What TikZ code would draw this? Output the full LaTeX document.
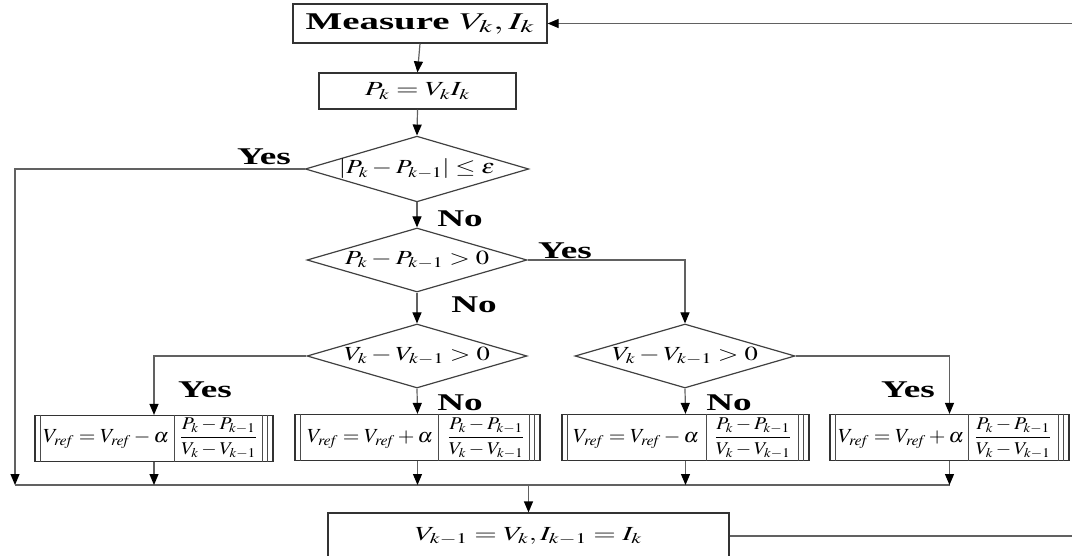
\documentclass[tikz,border=0pt]{standalone}
\usepackage{amsmath}
\usepackage{mathptmx}
\usepackage[no-math]{fontspec}
\setmainfont{Liberation Serif}
\usetikzlibrary{shapes.geometric,arrows.meta,calc}

% horizontally widened text, as in the chart's lettering
\newcommand{\wide}[2][1.45]{\scalebox{#1}[1]{#2}}

\tikzset{
  line/.style={draw=black!62, line width=1.2pt},
  arr/.style={line, -{Triangle[length=11pt,width=9pt,color=black]}},
  stepbox/.style={draw=black!80, line width=1.2pt, rectangle, inner sep=0pt},
  decide/.style={draw=black!75, line width=1.2pt, diamond, inner sep=0pt,
    shape aspect=3.4, minimum width=220pt, minimum height=64pt},
  lab/.style={inner sep=0pt, font=\fontsize{24}{26}\selectfont\bfseries},
  mtext/.style={inner sep=0pt, font=\fontsize{20}{22}\selectfont},
  ftext/.style={inner sep=0pt, font=\fontsize{18}{20}\selectfont},
}

\newcommand{\procbox}[5]{% name, center x, center y, width, divider offset
  \node[stepbox, minimum width=#4pt, minimum height=46pt] (#1) at (#2,#3) {};
  \draw[line width=0.9pt, black!70]
    ([xshift=6pt]#1.north west) -- ([xshift=6pt]#1.south west)
    ([xshift=-6pt]#1.north east) -- ([xshift=-6pt]#1.south east)
    ([xshift=-11pt]#1.north east) -- ([xshift=-11pt]#1.south east)
    ([xshift=#5pt]#1.north west) -- ([xshift=#5pt]#1.south west);
}

\begin{document}
\begin{tikzpicture}[x=1pt,y=-1pt]
\useasboundingbox (0,0) rectangle (1072,556);
\clip (0,0) rectangle (1072,556);

% top of the loop
\node[stepbox, minimum width=254pt, minimum height=39pt,
      font=\fontsize{24}{26}\selectfont\bfseries] (meas) at (420,23.5)
      {\wide[1.62]{Measure $V_k,I_k$}};
\node[stepbox, minimum width=197pt, minimum height=36pt, mtext] (pk) at (417.5,91)
      {\wide[1.45]{$P_k=V_kI_k$}};

% decisions
\node[decide, mtext] (d1) at (417,169)
      {\wide[1.3]{$\left|P_k-P_{k-1}\right|\le\varepsilon$}};
\node[decide, mtext] (d2) at (417,260)
      {\wide[1.33]{$P_k-P_{k-1}>0$}};
\node[decide, mtext] (d3) at (417,356)
      {\wide[1.33]{$V_k-V_{k-1}>0$}};
\node[decide, mtext] (d4) at (685,356)
      {\wide[1.33]{$V_k-V_{k-1}>0$}};

% reference-voltage updates
\procbox{b1}{154}{438.5}{238}{140}
\procbox{b2}{417.5}{437.5}{245}{144}
\procbox{b3}{685.5}{437.5}{247}{145}
\procbox{b4}{949.5}{437.5}{239}{139}

\node[mtext] (t1) at (106,439) {\wide[1.07]{$V_{\mathit{ref}}=V_{\mathit{ref}}-\alpha$}};
\node[ftext] (f1) at (218.5,438) {\wide[1.1]{$\dfrac{P_k-P_{k-1}}{V_k-V_{k-1}}$}};
\node[mtext] (t2) at (370,439) {\wide[1.07]{$V_{\mathit{ref}}=V_{\mathit{ref}}+\alpha$}};
\node[ftext] (f2) at (486,438) {\wide[1.1]{$\dfrac{P_k-P_{k-1}}{V_k-V_{k-1}}$}};
\node[mtext] (t3) at (636,439) {\wide[1.07]{$V_{\mathit{ref}}=V_{\mathit{ref}}-\alpha$}};
\node[ftext] (f3) at (753,438) {\wide[1.1]{$\dfrac{P_k-P_{k-1}}{V_k-V_{k-1}}$}};
\node[mtext] (t4) at (901,439) {\wide[1.07]{$V_{\mathit{ref}}=V_{\mathit{ref}}+\alpha$}};
\node[ftext] (f4) at (1013,438) {\wide[1.1]{$\dfrac{P_k-P_{k-1}}{V_k-V_{k-1}}$}};

% store previous sample
\node[stepbox, minimum width=401pt, minimum height=46pt, mtext] (fin) at (528.5,536)
      {\wide[1.45]{$V_{k-1}=V_k,I_{k-1}=I_k$}};

% branch labels
\node[lab] (y1) at (264,157) {\wide[1.55]{Yes}};
\node[lab] (n1) at (460,219) {\wide[1.55]{No}};
\node[lab] (y2) at (565,251) {\wide[1.55]{Yes}};
\node[lab] (n2) at (474,305) {\wide[1.55]{No}};
\node[lab] (y3) at (205,390) {\wide[1.55]{Yes}};
\node[lab] (n3) at (460,403) {\wide[1.55]{No}};
\node[lab] (n4) at (729,403) {\wide[1.55]{No}};
\node[lab] (y4) at (908,390) {\wide[1.55]{Yes}};

% connectors
\coordinate (mL) at (15,485);
\coordinate (mR) at (b4.south |- mL);
\coordinate (inT) at (1072,23.5);
\coordinate (outB) at (1072,536);

\draw[arr] (inT) -- (meas.east);
\draw[arr] (meas.south) -- (pk.north);
\draw[arr] (pk.south) -- (d1.north);
\draw[arr] (d1.south) -- (d2.north);
\draw[arr] (d2.south) -- (d3.north);
\draw[arr] (d2.east) -| (d4.north);
\draw[arr] (d3.west) -| (b1.north);
\draw[arr] (d3.south) -- (b2.north);
\draw[arr] (d4.south) -- (b3.north);
\draw[arr] (d4.east) -| (b4.north);
\draw[arr] (d1.west) -| (mL);
\draw[line] (mL) -- (mR);
\foreach \b in {b1,b2,b3,b4}
  \draw[arr] (\b.south) -- (\b.south |- mL);
\draw[arr] (mL -| fin.north) -- (fin.north);
\draw[line] (fin.east) -- (outB);
\end{tikzpicture}
\end{document}
